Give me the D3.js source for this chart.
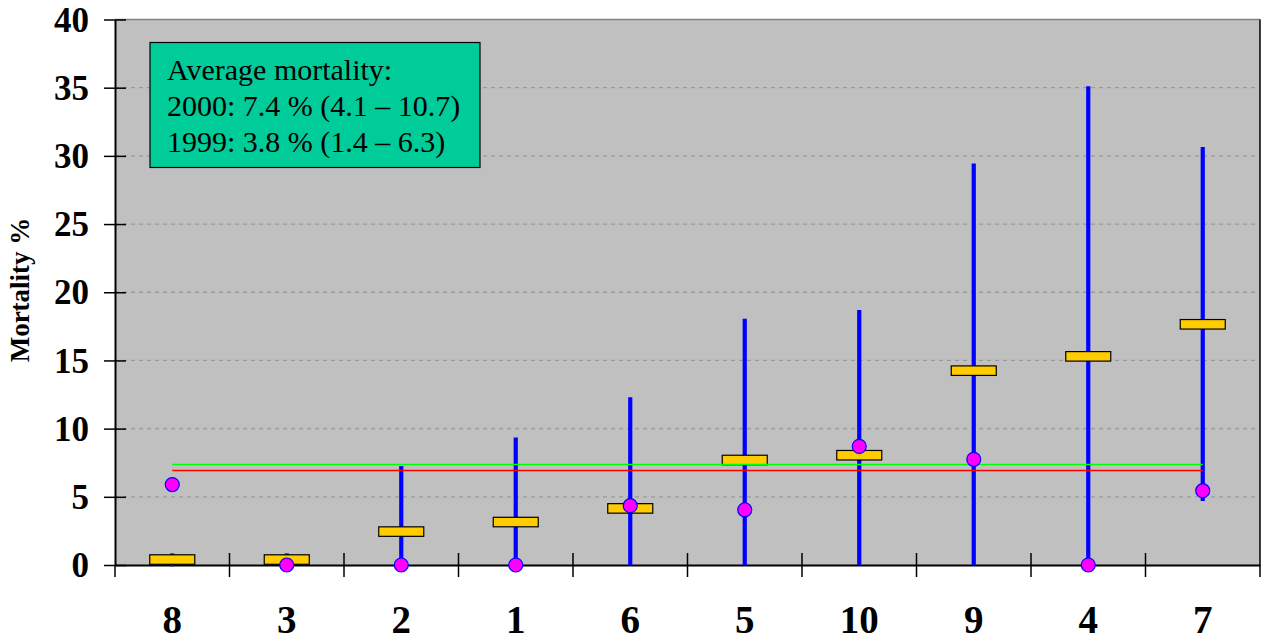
<!DOCTYPE html>
<html><head><meta charset="utf-8">
<script src="https://cdn.jsdelivr.net/npm/d3@7"></script>
<style>html,body{margin:0;padding:0;background:#fff;}svg{display:block;}</style>
</head><body><svg id="c" width="1265" height="642"></svg>
<script>
const categories = ["8","3","2","1","6","5","10","9","4","7"];
const mortality2000 = [0.4, 0.4, 2.45, 3.15, 4.15, 7.7, 8.05, 14.25, 15.3, 17.65];
const mortality1999 = [5.9, 0, 0, 0, 4.35, 4.05, 8.7, 7.75, 0, 5.45];
const rangeLow = [-0.1, 0, 0, 0, 0, 0, 0, 0, 0, 4.7];
const rangeHigh = [0.85, 0.85, 7.25, 9.35, 12.3, 18.05, 18.7, 29.45, 35.1, 30.65];
const avgLines = [{value: 7.4, color: "#00FF00"}, {value: 7.0, color: "#FF0000"}];
const yTicks = [0, 5, 10, 15, 20, 25, 30, 35, 40];
const legendLines = ["Average mortality:", "2000: 7.4 % (4.1 \u2013 10.7)", "1999: 3.8 % (1.4 \u2013 6.3)"];

const svg = d3.select("#c");
const L = 115, R = 1260, T = 19.5, B = 565;
const x = d3.scaleBand().domain(categories).range([L, R]);
const y = d3.scaleLinear().domain([0, 40]).range([B, T]);
const cx = d => x(d) + x.bandwidth() / 2;

// plot background
svg.append("rect").attr("x", L).attr("y", T).attr("width", R - L).attr("height", B - T).attr("fill", "#C0C0C0");

// gridlines
svg.append("g").selectAll("line").data(yTicks.filter(v => v > 0 && v < 40)).join("line")
  .attr("x1", L).attr("x2", R).attr("y1", d => y(d)).attr("y2", d => y(d))
  .attr("stroke", "#999999").attr("stroke-width", 1.3).attr("stroke-dasharray", "4,4");
// top and right border
svg.append("line").attr("x1", L).attr("x2", R).attr("y1", T).attr("y2", T).attr("stroke", "#808080").attr("stroke-width", 1.3);
svg.append("line").attr("x1", R).attr("x2", R).attr("y1", T).attr("y2", B).attr("stroke", "#000").attr("stroke-width", 1.5);

// y axis
const yAxis = d3.axisLeft(y).tickValues(yTicks).tickSize(0).tickPadding(26);
const gy = svg.append("g").attr("transform", `translate(${L},0)`).call(yAxis);
gy.select(".domain").attr("stroke", "#000").attr("stroke-width", 2);
gy.selectAll(".tick text").attr("font-family", "Liberation Serif, Times New Roman, serif")
  .attr("font-weight", "bold").attr("font-size", 35).attr("fill", "#000").attr("dy", "0.33em");
gy.selectAll(".tick").append("line").attr("x1", -11).attr("x2", 11).attr("stroke", "#000").attr("stroke-width", 1.5);

// x axis
const xAxis = d3.axisBottom(x).tickSize(0).tickPadding(40);
const gx = svg.append("g").attr("transform", `translate(0,${B})`).call(xAxis);
gx.select(".domain").attr("stroke", "#000").attr("stroke-width", 2);
gx.selectAll(".tick text").attr("font-family", "Liberation Serif, Times New Roman, serif")
  .attr("font-weight", "bold").attr("font-size", 39).attr("fill", "#000");
const bounds = categories.map(c => x(c)).concat([R]);
gx.append("g").selectAll("line").data(bounds).join("line")
  .attr("x1", d => d).attr("x2", d => d).attr("y1", (d, i) => (i === 0 || i === bounds.length - 1) ? 0 : -12).attr("y2", 12)
  .attr("stroke", "#000").attr("stroke-width", 1.5);

// y title
svg.append("text").attr("transform", "translate(29,290) rotate(-90)").attr("text-anchor", "middle")
  .attr("font-family", "Liberation Serif, Times New Roman, serif").attr("font-weight", "bold").attr("font-size", 27)
  .text("Mortality %");

// range bars
svg.append("g").selectAll("line").data(categories).join("line")
  .attr("x1", d => cx(d)).attr("x2", d => cx(d))
  .attr("y1", (d, i) => y(rangeLow[i])).attr("y2", (d, i) => y(rangeHigh[i]))
  .attr("stroke", "#0000FF").attr("stroke-width", 4.2);

// 2000 markers
const rw = 45, rh = 9.5;
svg.append("g").selectAll("rect").data(categories).join("rect")
  .attr("x", d => cx(d) - rw / 2).attr("y", (d, i) => y(mortality2000[i]) - rh / 2)
  .attr("width", rw).attr("height", rh)
  .attr("fill", "#FFCC00").attr("stroke", "#000").attr("stroke-width", 1.2);

// average lines
svg.append("g").selectAll("line").data(avgLines).join("line")
  .attr("x1", cx(categories[0])).attr("x2", cx(categories[categories.length - 1]))
  .attr("y1", d => Math.round(y(d.value)) + 0.5).attr("y2", d => Math.round(y(d.value)) + 0.5)
  .attr("stroke", d => d.color).attr("stroke-width", 1.6);

// 1999 markers
svg.append("g").selectAll("circle").data(categories).join("circle")
  .attr("cx", d => cx(d)).attr("cy", (d, i) => y(mortality1999[i])).attr("r", 7)
  .attr("fill", "#FF00FF").attr("stroke", "#0000FF").attr("stroke-width", 1.2);

// legend box
svg.append("rect").attr("x", 150).attr("y", 42.5).attr("width", 330).attr("height", 125)
  .attr("fill", "#00CC99").attr("stroke", "#000").attr("stroke-width", 1.2);
svg.append("g").selectAll("text").data(legendLines).join("text")
  .attr("x", 167).attr("y", (d, i) => 80 + i * 36)
  .attr("font-family", "Liberation Serif, Times New Roman, serif").attr("font-size", 30).attr("fill", "#000")
  .text(d => d);
</script></body></html>
